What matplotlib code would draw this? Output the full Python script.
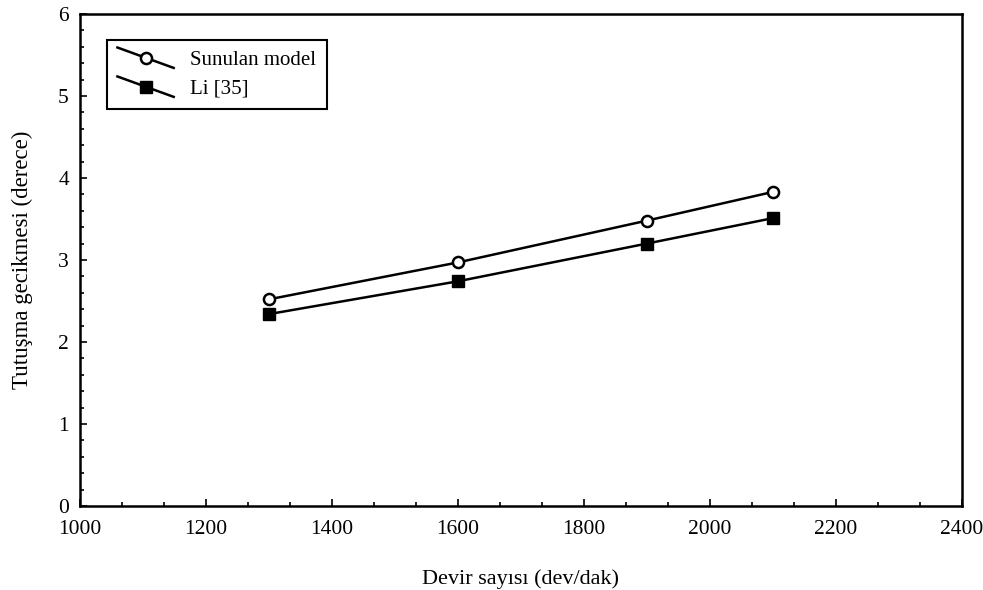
import matplotlib
matplotlib.use("Agg")
import matplotlib.pyplot as plt
from matplotlib.lines import Line2D
from matplotlib.legend_handler import HandlerLine2D
from matplotlib.ticker import MultipleLocator

plt.rcParams["font.family"] = ["Liberation Serif", "DejaVu Serif"]

# data
devir = [1300, 1600, 1900, 2100]
sunulan = [2.52, 2.97, 3.48, 3.83]
li35 = [2.34, 2.74, 3.20, 3.51]


class DiagHandler(HandlerLine2D):
    # slanted legend key like the original plot
    def create_artists(self, legend, orig_handle, xdescent, ydescent,
                       width, height, fontsize, trans):
        x0, x1 = -xdescent, -xdescent + width
        y0, y1 = -ydescent + height * 1.2, -ydescent - height * 0.2
        line = Line2D([x0, x1], [y0, y1], color=orig_handle.get_color(),
                      linewidth=orig_handle.get_linewidth())
        mark = Line2D([(x0 + x1) / 2], [(y0 + y1) / 2],
                      marker=orig_handle.get_marker(),
                      markersize=orig_handle.get_markersize(),
                      markerfacecolor=orig_handle.get_markerfacecolor(),
                      markeredgecolor=orig_handle.get_markeredgecolor(),
                      markeredgewidth=orig_handle.get_markeredgewidth(),
                      linestyle="none")
        line.set_transform(trans)
        mark.set_transform(trans)
        return [line, mark]


fig = plt.figure(figsize=(9.83, 5.90), dpi=100)
ax = fig.add_axes([0.0814, 0.1424, 0.8972, 0.834])

l1, = ax.plot(devir, sunulan, color="k", linewidth=1.8, marker="o",
              markersize=8, markerfacecolor="white", markeredgewidth=1.8,
              label="Sunulan model")
l2, = ax.plot(devir, li35, color="k", linewidth=1.8, marker="s",
              markersize=8.5, markerfacecolor="k", label="Li [35]")

ax.set_xlim(1000, 2400)
ax.set_ylim(0, 6)
ax.xaxis.set_major_locator(MultipleLocator(200))
ax.xaxis.set_minor_locator(MultipleLocator(200 / 3))
ax.yaxis.set_major_locator(MultipleLocator(1))
ax.yaxis.set_minor_locator(MultipleLocator(0.2))
ax.tick_params(which="both", direction="in", top=False, right=False,
               labelsize=15.5, width=1.2)
ax.tick_params(axis="x", which="major", length=5, pad=10)
ax.tick_params(axis="y", which="major", length=5, pad=8)
ax.tick_params(which="minor", length=3)
for s in ax.spines.values():
    s.set_linewidth(1.8)

ax.set_xlabel("Devir sayısı (dev/dak)", fontsize=16, labelpad=22)
ax.set_ylabel("Tutuşma gecikmesi (derece)", fontsize=16.5, labelpad=18)

leg = ax.legend(handler_map={Line2D: DiagHandler()},
                loc="upper left", bbox_to_anchor=(0.0306, 0.947),
                borderaxespad=0, fontsize=15, frameon=True, fancybox=False,
                edgecolor="k", framealpha=1, handlelength=2.7,
                handletextpad=0.8, borderpad=0.5, labelspacing=0.45)
leg.get_frame().set_linewidth(1.5)

fig.savefig("out.png", dpi=100)
